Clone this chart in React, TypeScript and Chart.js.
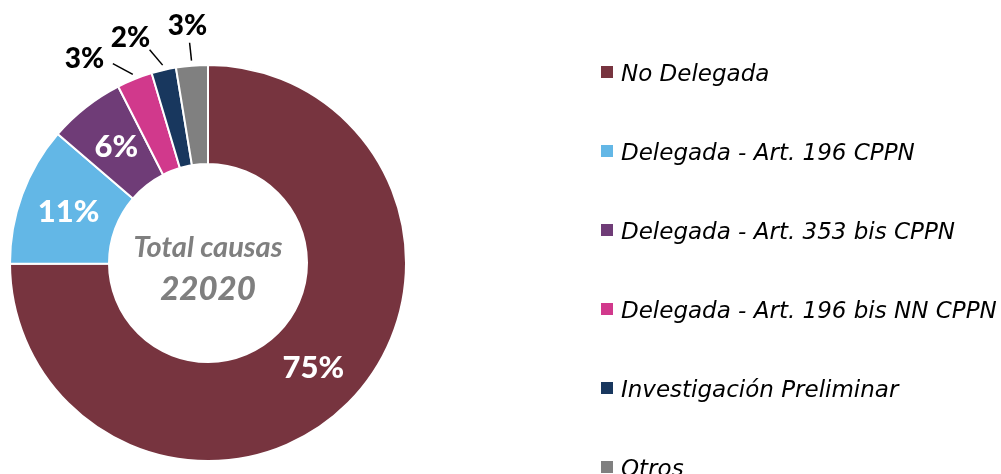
import React, { useEffect, useRef } from "react";
import { Chart, registerables } from "chart.js";

Chart.register(...registerables);

// ---- data ----
const categories = [
  "No Delegada",
  "Delegada - Art. 196 CPPN",
  "Delegada - Art. 353 bis CPPN",
  "Delegada - Art. 196 bis NN CPPN",
  "Investigación Preliminar",
  "Otros",
];
const causas = [16500, 2500, 1370, 640, 440, 570];
const centerTitle = "Total causas";

// ---- style ----
const colors = ["#77343F", "#63B7E6", "#6F3C77", "#D1398C", "#18375E", "#808080"];
const OUTSIDE_THRESHOLD = 0.04;
const OUT_NUDGE_DEG = [0, 0, 0, -9.4, -6, -0.3];

const sliceLabels = {
  id: "sliceLabels",
  afterDatasetsDraw(chart: any) {
    const ctx = chart.ctx as CanvasRenderingContext2D;
    const meta = chart.getDatasetMeta(0);
    const data = chart.data.datasets[0].data as number[];
    const total = data.reduce((a, b) => a + b, 0);
    meta.data.forEach((arc: any, i: number) => {
      const { x, y, startAngle, endAngle, innerRadius, outerRadius } = arc.getProps(
        ["x", "y", "startAngle", "endAngle", "innerRadius", "outerRadius"],
        true
      );
      const share = data[i] / total;
      const txt = Math.round(share * 100) + "%";
      const mid = (startAngle + endAngle) / 2;
      const pt = (a: number, r: number) => [x + Math.cos(a) * r, y + Math.sin(a) * r];
      ctx.save();
      ctx.textAlign = "center";
      ctx.textBaseline = "alphabetic";
      if (share >= OUTSIDE_THRESHOLD) {
        const [px, py] = pt(mid, (innerRadius + outerRadius) / 2);
        ctx.font = "900 31px Lato";
        ctx.fillStyle = "#FFFFFF";
        ctx.fillText(txt, px, py + 10.5);
      } else {
        const nudge = (OUT_NUDGE_DEG[i] * Math.PI) / 180;
        const [x1, y1] = pt(mid, outerRadius + 5);
        const [x2, y2] = pt(mid + nudge * 0.4, outerRadius + 23);
        const [lx, ly] = pt(mid + nudge, outerRadius + 41);
        ctx.strokeStyle = "#000000";
        ctx.lineWidth = 1.5;
        ctx.beginPath();
        ctx.moveTo(x1, y1);
        ctx.lineTo(x2, y2);
        ctx.stroke();
        ctx.font = "900 28px Lato";
        ctx.fillStyle = "#000000";
        ctx.fillText(txt, lx, ly + 10);
      }
      ctx.restore();
    });
  },
};

const centerText = {
  id: "centerText",
  afterDraw(chart: any) {
    const ctx = chart.ctx as CanvasRenderingContext2D;
    const arc = chart.getDatasetMeta(0).data[0];
    if (!arc) return;
    const data = chart.data.datasets[0].data as number[];
    const total = data.reduce((a, b) => a + b, 0);
    ctx.save();
    ctx.textAlign = "center";
    ctx.textBaseline = "alphabetic";
    ctx.fillStyle = "#7F7F7F";
    ctx.font = "italic bold 29px Lato";
    ctx.fillText(centerTitle, arc.x, arc.y - 6);
    ctx.font = "italic 900 33px Lato";
    ctx.fillText(String(total), arc.x, arc.y + 37);
    ctx.restore();
  },
};

const sideLegend = {
  id: "sideLegend",
  afterDraw(chart: any) {
    const ctx = chart.ctx as CanvasRenderingContext2D;
    const labels = chart.data.labels as string[];
    const bg = chart.data.datasets[0].backgroundColor as string[];
    ctx.save();
    ctx.textAlign = "left";
    ctx.textBaseline = "alphabetic";
    ctx.font = "italic 23px 'DejaVu Sans'";
    labels.forEach((lab, i) => {
      const base = 80.5 + 79 * i;
      ctx.fillStyle = bg[i];
      ctx.fillRect(601, base - 14.5, 12, 12);
      ctx.fillStyle = "#000000";
      ctx.fillText(lab, 621, base);
    });
    ctx.restore();
  },
};

export default function App() {
  const ref = useRef<HTMLCanvasElement | null>(null);
  useEffect(() => {
    document.body.style.margin = "0";
    if (!ref.current) return;
    const chart = new Chart(ref.current, {
      type: "doughnut",
      data: {
        labels: categories,
        datasets: [
          {
            data: causas,
            backgroundColor: colors,
            borderColor: "#FFFFFF",
            borderWidth: 2,
            hoverOffset: 0,
            offset: 0,
          },
        ],
      },
      options: {
        responsive: false,
        animation: false,
        cutout: "50%",
        layout: { padding: { left: 9, top: 64, right: 594, bottom: 12 } },
        plugins: {
          legend: { display: false },
          tooltip: { enabled: false },
        },
      },
      plugins: [sliceLabels, centerText, sideLegend],
    });
    return () => chart.destroy();
  }, []);
  return (
    <div style={{ width: 1001, height: 474, overflow: "hidden", background: "#FFFFFF" }}>
      <canvas ref={ref} width={1001} height={474} style={{ display: "block" }} />
    </div>
  );
}
